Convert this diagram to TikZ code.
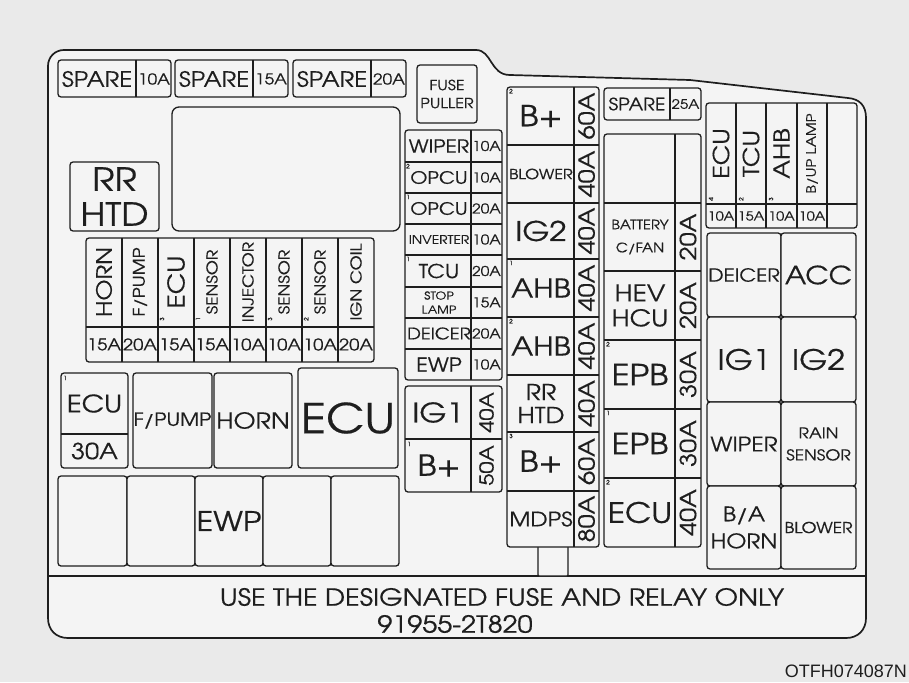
\documentclass[tikz,border=0pt]{standalone}
\usepackage{fontspec}
\setmainfont{Liberation Sans}
\newfontfamily\gothic[FakeStretch=1.15,FakeBold=0.5]{texgyreadventor-regular.otf}
\definecolor{ink}{HTML}{1E1E1E}
\definecolor{paper}{HTML}{EAEAEA}
\definecolor{panel}{HTML}{F4F4F4}
\begin{document}
\begin{tikzpicture}[x=1pt,y=-1pt,
  box/.style={draw=ink,line width=1.3pt,rounded corners=3pt,fill=panel},
  div/.style={draw=ink,line width=1.3pt},
  lab/.style={font=\gothic\fontsize{#1}{#1}\selectfont,text=ink,inner sep=0pt,align=center},
  vlab/.style={lab=#1,rotate=90},
  idx/.style={font=\gothic\fontsize{6}{6}\selectfont,text=ink,inner sep=0pt}]
\useasboundingbox[fill=paper] (0,0) rectangle (909,682);
% case outline
\draw[ink,line width=1.7pt,fill=panel] (510,75) .. controls (490,75) and (492,50) .. (476,50) -- (64,50) .. controls (55,50) and (48,57) .. (48,66) -- (48,618) .. controls (48,630) and (56,638) .. (68,638) -- (846,638) .. controls (858,638) and (866,630) .. (866,618) -- (866,118) .. controls (866,106) and (860,99) .. (848,98) -- (690,80) -- cycle;
\draw[div,line width=1.5pt] (48,576) -- (866,576);
% spare fuses
\foreach \x/\amp [count=\i] in {58/10A,175/15A,293/20A}{
  \draw[box] (\x,60) rectangle ++(113,37);
  \draw[div] (\x+78,60) -- ++(0,37);
  \node[lab=21] (spare\i) at (\x+39,79) {SPARE};
  \node[lab=15] (spareamp\i) at (\x+96,79) {\amp};
}
\draw[box] (417,65) rectangle (477,123);
\node[lab=14] (puller) at (447,94) {FUSE\\[4pt]PULLER};
\draw[box,rounded corners=7pt] (172,107) rectangle (400,231);
\draw[box] (70,162) rectangle (159,231);
\node[lab=32] (rrhtd) at (114.5,196.5) {RR\\[3pt]HTD};
% left fuse column
\draw[box] (405,130) rectangle (502,380);
\draw[div] (471,130) -- (471,380);
\foreach \y in {162,193,224,255,287,318,349} \draw[div] (405,\y) -- (502,\y);
\foreach \y/\txt/\sz/\amp [count=\i] in {146/WIPER/18/10A,177.5/OPCU/17/10A,208.5/OPCU/17/20A,239.5/INVERTER/12/10A,271/TCU/19/20A,302.5/{STOP\\[3pt]LAMP}/11/15A,333.5/DEICER/16/20A,364.5/EWP/19/10A}{
  \node[lab=\sz] (lcol\i) at (439,\y) {\txt};
  \node[lab=13.5] (lamp\i) at (486.5,\y) {\amp};
}
\node[idx] (lidx1) at (408,166) {2};
\node[idx] (lidx2) at (408,197) {1};
\node[idx] (lidx3) at (408,259) {1};
\draw[box] (405,386) rectangle (502,492);
\draw[div] (471,386) -- (471,492);
\draw[div] (405,439) -- (502,439);
\node[lab=27] (ig1) at (438,412.5) {IG1};
\node[vlab=19] (ig1amp) at (486.5,412.5) {40A};
\node[lab=29] (bplus1) at (439,465.5) {B+};
\node[vlab=19] (bplus1amp) at (486.5,465.5) {50A};
\node[idx] (bidx1) at (409,444) {1};
% middle fuse column
\draw[box,rounded corners=1pt] (538,540) rectangle (568,576);
\draw[box] (507,87) rectangle (599,547);
\draw[div] (574,87) -- (574,547);
\foreach \y in {145,203,259,317,375,432,491} \draw[div] (507,\y) -- (599,\y);
\foreach \y/\txt/\sz/\amp [count=\i] in {116/B+/29/60A,174/BLOWER/14/40A,231/IG2/27/40A,288/AHB/26/40A,346/AHB/26/40A,403.5/{RR\\[1pt]HTD}/22/40A,461.5/B+/29/60A,519/MDPS/20/80A}{
  \node[lab=\sz] (mcol\i) at (541,\y) {\txt};
  \node[vlab=22] (mamp\i) at (586.5,\y) {\amp};
}
\node[idx] (midx1) at (511,91) {2};
\node[idx] (midx2) at (511,263) {1};
\node[idx] (midx3) at (511,321) {2};
\node[idx] (midx4) at (511,436) {3};
% right fuse column
\draw[box] (604,88) rectangle (701,120);
\draw[div] (670,88) -- (670,120);
\node[lab=17] (spare4) at (637,104) {SPARE};
\node[lab=13] (spareamp4) at (685.5,104) {25A};
\draw[box] (604,134) rectangle (701,547);
\draw[div] (675,134) -- (675,547);
\foreach \y in {203,271,340,409,478} \draw[div] (604,\y) -- (701,\y);
\foreach \y/\txt/\sz/\amp [count=\i] in {237/{BATTERY\\[10pt]C/FAN}/13/20A,305.5/{HEV\\[2pt]HCU}/23/20A,374.5/EPB/29/30A,443.5/EPB/29/30A,512.5/ECU/28/40A}{
  \node[lab=\sz] (rcol\i) at (640,\y) {\txt};
  \node[vlab=22] (ramp\i) at (688,\y) {\amp};
}
\node[idx] (ridx1) at (608,344) {2};
\node[idx] (ridx2) at (608,413) {1};
\node[idx] (ridx3) at (608,482) {2};
% small vertical fuses, right
\draw[box] (706,103) rectangle (857,228);
\foreach \x in {736,766,797,827} \draw[div] (\x,103) -- (\x,228);
\draw[div] (706,204) -- (857,204);
\foreach \x/\txt/\sz/\amp [count=\i] in {721/ECU/22/10A,751/TCU/22/15A,781.5/AHB/22/10A,812/B\slash UP LAMP/13/10A}{
  \node[vlab=\sz] (vr\i) at (\x,153.5) {\txt};
  \node[lab=12.5] (vramp\i) at (\x,216) {\amp};
}
\node[idx,rotate=90] (vridx1) at (711,199) {4};
\node[idx,rotate=90] (vridx2) at (741,199) {2};
\node[idx,rotate=90] (vridx3) at (771,199) {3};
% relays, right
\foreach \ya/\yb in {233/317,317/402,402/486,486/569}{
  \draw[box] (707,\ya) rectangle (781,\yb);
  \draw[box] (781,\ya) rectangle (856,\yb);
}
\node[lab=18] (deicer) at (744,275) {DEICER};
\node[lab=25] (acc) at (818.5,275) {ACC};
\node[lab=28] (ig1r) at (744,359.5) {IG1};
\node[lab=28] (ig2r) at (818.5,359.5) {IG2};
\node[lab=20] (wiperr) at (744,444) {WIPER};
\node[lab=15] (rain) at (818.5,444) {RAIN\\[7pt]SENSOR};
\node[lab=20] (bahorn) at (744,527.5) {B/A\\[7pt]HORN};
\node[lab=15] (blowerr) at (818.5,527.5) {BLOWER};
% small vertical fuses, left
\draw[box] (86,238) rectangle (374,362);
\foreach \x in {122,158,194,230,266,302,338} \draw[div] (\x,238) -- (\x,362);
\draw[div] (86,327) -- (374,327);
\foreach \x/\txt/\sz/\amp [count=\i] in {104/HORN/21/15A,140/F\slash PUMP/16/20A,176/ECU/23/15A,212/SENSOR/15/15A,248/INJECTOR/15/10A,284/SENSOR/15/10A,320/SENSOR/15/10A,356/IGN COIL/15/20A}{
  \node[vlab=\sz] (vl\i) at (\x,282) {\txt};
  \node[lab=16] (vlamp\i) at (\x,344.5) {\amp};
}
\node[idx,rotate=90] (vlidx1) at (162,319) {3};
\node[idx,rotate=90] (vlidx2) at (198,319) {1};
\node[idx,rotate=90] (vlidx3) at (270,319) {3};
\node[idx,rotate=90] (vlidx4) at (306,319) {2};
% relays, left
\draw[box] (61,373) rectangle (128,468);
\draw[div] (61,434) -- (128,434);
\node[lab=24] (ecu1) at (94.5,403.5) {ECU};
\node[lab=22] (ecu1amp) at (94.5,451) {30A};
\node[idx] (ecuidx) at (65,378) {1};
\draw[box] (133,373) rectangle (212,468);
\node[lab=18] (fpump) at (172.5,420.5) {F/PUMP};
\draw[box] (214,373) rectangle (292,468);
\node[lab=22] (horn) at (253,420.5) {HORN};
\draw[box] (298,368) rectangle (398,468);
\node[lab=41] (ecubig) at (348,418) {ECU};
\foreach \xa/\xb in {58/127,127/195,195/263,263/331,331/399} \draw[box] (\xa,476) rectangle (\xb,566);
\node[lab=27] (ewp) at (229,521) {EWP};
% notice
\node[lab=23.5] (note) at (502,597) {USE THE DESIGNATED FUSE AND RELAY ONLY};
\node[lab=23.5] (partno) at (455,624) {91955-2T820};
\node[font=\fontsize{18}{18}\selectfont,text=ink,inner sep=0pt,anchor=east] (code) at (907,671) {OTFH074087N};
\end{tikzpicture}
\end{document}
